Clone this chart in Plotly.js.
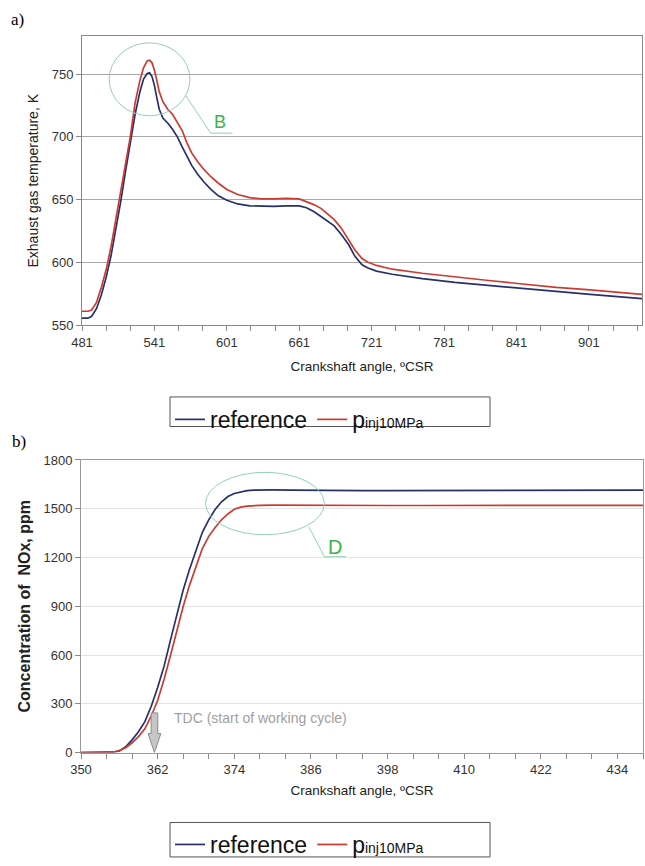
<!DOCTYPE html>
<html>
<head>
<meta charset="utf-8">
<script src="https://cdn.plot.ly/plotly-3.0.1.min.js"></script>
<style>html,body{margin:0;padding:0;background:#fff;}#chart{width:645px;height:866px;}</style>
</head>
<body>
<div id="chart"></div>
<script>
// ---- Panel a) exhaust gas temperature ----
const angleA = [481, 486, 489, 493, 497, 501, 505, 509, 513, 517, 521, 525, 529, 532, 535, 537, 539, 541, 543, 545, 548, 552, 556, 560, 564, 568, 572, 577, 582, 588, 594, 601, 610, 620, 630, 640, 650, 661, 667, 673, 679, 685, 690, 696, 702, 707, 713, 718, 725, 738, 763, 790, 818, 846, 874, 902, 945];
const tempRef = [555.5, 555.5, 557, 563, 574, 588, 605, 626, 648, 672, 695, 718, 736, 746, 750.5, 751, 748, 741, 731, 722, 715, 711, 706, 700, 692, 684, 677, 670, 664, 658, 653, 649.5, 646.5, 645, 644.5, 644.5, 645, 645, 643.5, 640.5, 636.5, 632, 629, 622, 614, 605, 598, 595.5, 593, 590.5, 587, 584, 581.5, 579, 576.8, 574.4, 571];
const tempInj = [561, 561, 562, 568, 580, 594, 612, 633, 655, 678, 700, 727, 745, 755, 760.5, 761, 759, 753, 745, 736, 728, 722, 718, 712, 705, 695, 687, 680, 674, 668, 663, 658, 654, 651.5, 650.5, 650.5, 651, 650.5, 648.5, 646, 643, 638, 634, 627, 618, 610, 603, 600, 597.5, 594.5, 591.3, 588.7, 585.5, 582.7, 580, 578, 574.5];
const ticksA_y = [550, 600, 650, 700, 750];

// ---- Panel b) NOx concentration ----
const angleB = [350, 353, 355, 356, 357, 358, 359, 360, 361, 362, 363, 364, 365, 366, 367, 368, 369, 370, 371, 372, 373, 374, 375, 376, 377, 378, 380, 383, 386, 390, 394, 398, 404, 410, 416, 422, 428, 434, 438];
const noxRef = [0, 0, 2, 10, 35, 78, 128, 190, 285, 400, 530, 690, 850, 1000, 1128, 1248, 1355, 1432, 1495, 1543, 1575, 1594, 1604, 1611, 1615, 1616, 1616, 1615, 1613, 1611, 1611, 1612, 1612, 1613, 1613, 1614, 1615, 1615, 1615];
const noxInj = [0, 0, 2, 12, 30, 60, 98, 146, 225, 320, 449, 595, 750, 898, 1030, 1148, 1255, 1330, 1385, 1432, 1468, 1497, 1510, 1516, 1519, 1521, 1522, 1521, 1520, 1520, 1520, 1520, 1520, 1521, 1521, 1521, 1521, 1521, 1521];
const ticksB_y = [0, 300, 600, 900, 1200, 1500, 1800];

const seriesNames = ['reference', 'p<span style="font-size:14px">inj10MPa</span>'];
const colRef = '#28306a';
const colInj = '#cc3b33';

const W = 645, H = 866;
const px = v => v / W;
const py = v => (H - v) / H;

const traces = [
  {x: angleA, y: tempRef, type: 'scatter', mode: 'lines', name: seriesNames[0], line: {color: colRef, width: 1.7}, xaxis: 'x', yaxis: 'y', legend: 'legend'},
  {x: angleA, y: tempInj, type: 'scatter', mode: 'lines', name: seriesNames[1], line: {color: colInj, width: 1.7}, xaxis: 'x', yaxis: 'y', legend: 'legend'},
  {x: angleB, y: noxRef, type: 'scatter', mode: 'lines', name: seriesNames[0], line: {color: colRef, width: 1.7}, xaxis: 'x2', yaxis: 'y2', legend: 'legend2'},
  {x: angleB, y: noxInj, type: 'scatter', mode: 'lines', name: seriesNames[1], line: {color: colInj, width: 1.7}, xaxis: 'x2', yaxis: 'y2', legend: 'legend2'}
];

const fontFam = '"Liberation Sans", Arial, sans-serif';
const greenCirc = '#9cc9bd';
const greenTxt = '#3bb54a';

const layout = {
  width: W, height: H,
  margin: {l: 0, r: 0, t: 0, b: 0},
  paper_bgcolor: '#fff', plot_bgcolor: '#fff',
  font: {family: fontFam, size: 13, color: '#333'},
  showlegend: true,
  xaxis: {
    domain: [px(82), px(642)], anchor: 'y', range: [481, 945],
    tick0: 481, dtick: 60, ticks: 'outside', ticklen: 5, tickcolor: '#888',
    minor: {tick0: 481, dtick: 20, ticks: 'outside', ticklen: 5, tickcolor: '#888', showgrid: false},
    showline: true, linecolor: '#888', linewidth: 1, mirror: true,
    showgrid: false, zeroline: false,
    tickfont: {size: 13, color: '#333'},
    title: {text: 'Crankshaft angle, ºCSR', font: {size: 13.5, color: '#222'}, standoff: 12}
  },
  yaxis: {
    domain: [py(330), py(37)], anchor: 'x', range: [550, 780],
    tickvals: ticksA_y, ticks: 'outside', ticklen: 5, tickcolor: '#888',
    showline: true, linecolor: '#888', linewidth: 1, mirror: true,
    showgrid: true, gridcolor: '#a8a8a8', gridwidth: 1, zeroline: false,
    tickfont: {size: 13, color: '#333'},
    title: {text: 'Exhaust gas temperature, K', font: {size: 14, color: '#222'}, standoff: 9}
  },
  xaxis2: {
    domain: [px(81), px(643)], anchor: 'y2', range: [350, 438],
    tick0: 350, dtick: 12, ticks: 'outside', ticklen: 5, tickcolor: '#888',
    minor: {tick0: 350, dtick: 4, ticks: 'outside', ticklen: 5, tickcolor: '#888', showgrid: false},
    showline: true, linecolor: '#999', linewidth: 1, mirror: true,
    showgrid: false, zeroline: false,
    tickfont: {size: 13, color: '#333'},
    title: {text: 'Crankshaft angle, ºCSR', font: {size: 13.5, color: '#222'}, standoff: 9}
  },
  yaxis2: {
    domain: [py(764), py(467)], anchor: 'x2', range: [0, 1800],
    tickvals: ticksB_y, ticks: 'outside', ticklen: 5, tickcolor: '#888',
    showline: true, linecolor: '#999', linewidth: 1, mirror: true,
    showgrid: true, gridcolor: '#e4e4e4', gridwidth: 1, zeroline: false,
    tickfont: {size: 13, color: '#333'},
    title: {text: '<b>Concentration of  NOx, ppm</b>', font: {size: 16, color: '#222'}, standoff: 8}
  },
  legend: {
    orientation: 'h', x: px(170), y: py(404), xanchor: 'left', yanchor: 'top',
    bgcolor: 'rgba(0,0,0,0)', borderwidth: 0,
    font: {family: fontFam, size: 23, color: '#111'}, itemwidth: 30
  },
  legend2: {
    orientation: 'h', x: px(170), y: py(836), xanchor: 'left', yanchor: 'top',
    bgcolor: 'rgba(0,0,0,0)', borderwidth: 0,
    font: {family: fontFam, size: 23, color: '#111'}, itemwidth: 30
  },
  shapes: [
    // legend boxes
    {type: 'rect', xref: 'paper', yref: 'paper', x0: px(170), x1: px(490), y0: py(433), y1: py(403), line: {color: '#555', width: 1}},
    {type: 'rect', xref: 'paper', yref: 'paper', x0: px(170), x1: px(490), y0: py(870), y1: py(835), line: {color: '#555', width: 1}},
    // ellipse B with leader
    {type: 'circle', xref: 'x', yref: 'y', x0: 503.5, x1: 570.4, y0: 716.8, y1: 774.9, line: {color: greenCirc, width: 1}},
    {type: 'path', xref: 'x', yref: 'y', path: 'M566.8,733 L587.7,702.9 L605.7,702.9', line: {color: greenCirc, width: 1}},
    // ellipse D with leader
    {type: 'circle', xref: 'x2', yref: 'y2', x0: 369.5, x1: 388.1, y0: 1340, y1: 1724, line: {color: '#93d1b3', width: 1}},
    {type: 'path', xref: 'x2', yref: 'y2', path: 'M385.7,1387 L388.1,1205 L391.5,1205', line: {color: '#93d1b3', width: 1}},
    // TDC block arrow
    {type: 'path', xref: 'x2', yref: 'y2', path: 'M360.98,244 L362.02,244 L362.02,117 L362.5,117 L361.5,0 L360.5,117 L360.98,117 Z', fillcolor: '#c6c6c6', line: {color: '#8c8c8c', width: 1}}
  ],
  annotations: [
    {text: 'a)', xref: 'paper', yref: 'paper', x: px(9), y: py(20), xanchor: 'left', yanchor: 'middle', showarrow: false, font: {family: '"Liberation Serif", "Times New Roman", serif', size: 17, color: '#000'}},
    {text: 'b)', xref: 'paper', yref: 'paper', x: px(10), y: py(448), xanchor: 'left', yanchor: 'middle', showarrow: false, font: {family: '"Liberation Serif", "Times New Roman", serif', size: 17, color: '#000'}},
    {text: 'B', xref: 'x', yref: 'y', x: 595.4, y: 711.8, showarrow: false, font: {size: 18, color: greenTxt}},
    {text: 'D', xref: 'x2', yref: 'y2', x: 389.7, y: 1266, showarrow: false, font: {size: 20, color: greenTxt}},
    {text: 'TDC (start of working cycle)', xref: 'x2', yref: 'y2', x: 364.3, y: 213, xanchor: 'left', yanchor: 'middle', showarrow: false, font: {size: 14, color: '#a0a0a0'}}
  ]
};

Plotly.newPlot('chart', traces, layout, {displayModeBar: false, staticPlot: true});
</script>
</body>
</html>
